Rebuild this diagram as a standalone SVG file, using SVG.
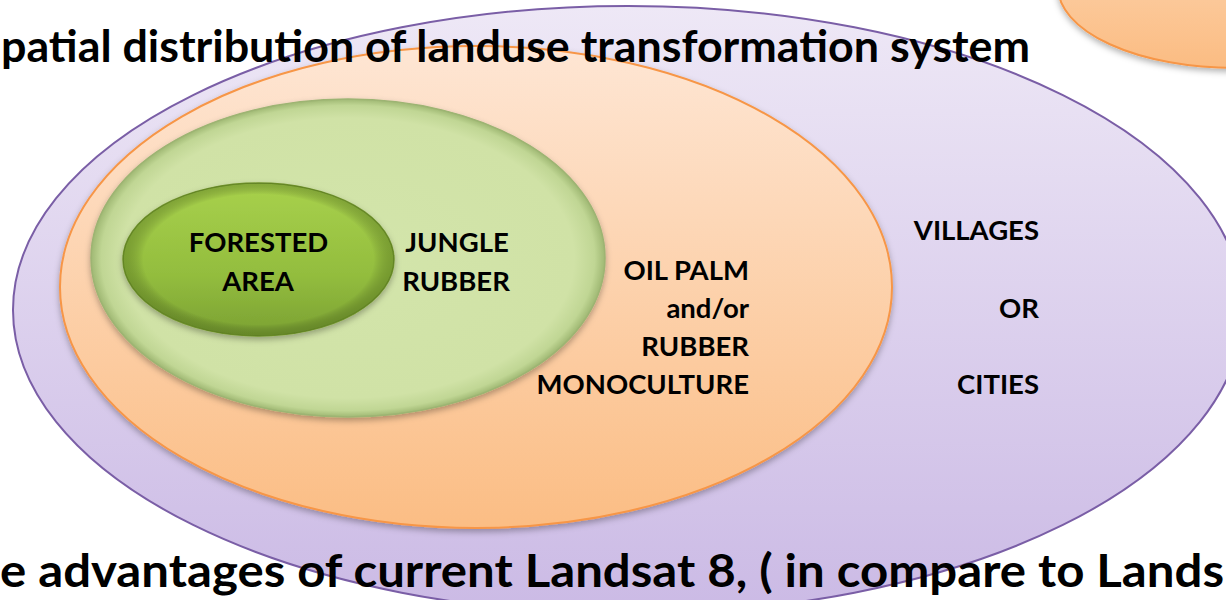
<svg xmlns="http://www.w3.org/2000/svg" width="1226" height="600" viewBox="0 0 1226 600">
  <defs>
    <linearGradient id="gPurple" x1="0" y1="0" x2="0" y2="1">
      <stop offset="0" stop-color="#eee8f6"/>
      <stop offset="1" stop-color="#cbbae5"/>
    </linearGradient>
    <linearGradient id="gOrange" x1="0" y1="0" x2="0" y2="1">
      <stop offset="0" stop-color="#fee6d4"/>
      <stop offset="1" stop-color="#fbbd84"/>
    </linearGradient>
    <linearGradient id="gOrange2" x1="0" y1="0" x2="0" y2="1">
      <stop offset="0" stop-color="#fdd9b8"/>
      <stop offset="1" stop-color="#fbbc82"/>
    </linearGradient>
    <radialGradient id="gJungle" cx="0.5" cy="0.5" r="0.5">
      <stop offset="0" stop-color="#d3e5ab"/>
      <stop offset="0.88" stop-color="#d0e2a6"/>
      <stop offset="0.96" stop-color="#c0d694"/>
      <stop offset="1" stop-color="#9fb873"/>
    </radialGradient>
    <linearGradient id="gForest" x1="0" y1="0" x2="0" y2="1">
      <stop offset="0" stop-color="#a8d14c"/>
      <stop offset="0.6" stop-color="#93bd3e"/>
      <stop offset="1" stop-color="#7ba133"/>
    </linearGradient>
    <radialGradient id="gForestRim" cx="0.5" cy="0.5" r="0.5">
      <stop offset="0.85" stop-color="#000000" stop-opacity="0"/>
      <stop offset="1" stop-color="#3e5a12" stop-opacity="0.35"/>
    </radialGradient>
    <filter id="shadow" x="-10%" y="-10%" width="120%" height="125%">
      <feDropShadow dx="0" dy="3" stdDeviation="3" flood-color="#000000" flood-opacity="0.3"/>
    </filter>
    <style>
      .lbl { font-family: Lato, "Open Sans", "Liberation Sans", sans-serif; font-weight: 700; fill: #000000; }
      .node { font-size: 27.5px; }
      .title { font-size: 44px; }
      .title2 { font-size: 46px; }
    </style>
  </defs>

  <rect width="1226" height="600" fill="#ffffff"/>

  <g id="corner-ellipse">
    <ellipse cx="1235" cy="-13" rx="177" ry="81" fill="url(#gOrange2)" stroke="#f79646" stroke-width="2" filter="url(#shadow)"/>
  </g>

  <g id="villages-cities">
    <ellipse cx="628" cy="310" rx="615" ry="304" fill="url(#gPurple)" stroke="#7a5ea6" stroke-width="2"/>
    <text class="lbl node" x="1039" y="240" text-anchor="end">VILLAGES</text>
    <text class="lbl node" x="1039" y="318" text-anchor="end">OR</text>
    <text class="lbl node" x="1039" y="394" text-anchor="end">CITIES</text>
  </g>

  <g id="oil-palm-rubber">
    <ellipse cx="476" cy="287" rx="416" ry="241" fill="url(#gOrange)" stroke="#f79646" stroke-width="2" filter="url(#shadow)"/>
    <text class="lbl node" x="749" y="280" text-anchor="end">OIL PALM</text>
    <text class="lbl node" x="749" y="318" text-anchor="end">and/or</text>
    <text class="lbl node" x="749" y="356" text-anchor="end">RUBBER</text>
    <text class="lbl node" x="749" y="394" text-anchor="end">MONOCULTURE</text>
  </g>

  <g id="jungle-rubber">
    <ellipse cx="348" cy="258" rx="257" ry="159" fill="url(#gJungle)" stroke="#9db473" stroke-width="1.5" filter="url(#shadow)"/>
    <text class="lbl node" x="457" y="252" text-anchor="middle">JUNGLE</text>
    <text class="lbl node" x="456" y="291" text-anchor="middle">RUBBER</text>
  </g>

  <g id="forested-area">
    <ellipse cx="258.5" cy="259.5" rx="135.5" ry="76.5" fill="url(#gForest)" stroke="#6f922c" stroke-width="1.5" filter="url(#shadow)"/>
    <ellipse cx="258.5" cy="259.5" rx="135.5" ry="76.5" fill="url(#gForestRim)"/>
    <text class="lbl node" x="258.5" y="252" text-anchor="middle">FORESTED</text>
    <text class="lbl node" x="258" y="291" text-anchor="middle">AREA</text>
  </g>

  <g id="connectors"/>

  <g id="titles">
    <text class="lbl title" x="1" y="62" textLength="1029" lengthAdjust="spacingAndGlyphs">patial distribution of landuse transformation system</text>
    <text class="lbl title2" x="0" y="587" textLength="1224" lengthAdjust="spacingAndGlyphs">e advantages of current Landsat 8, ( in compare to Lands</text>
  </g>
</svg>
